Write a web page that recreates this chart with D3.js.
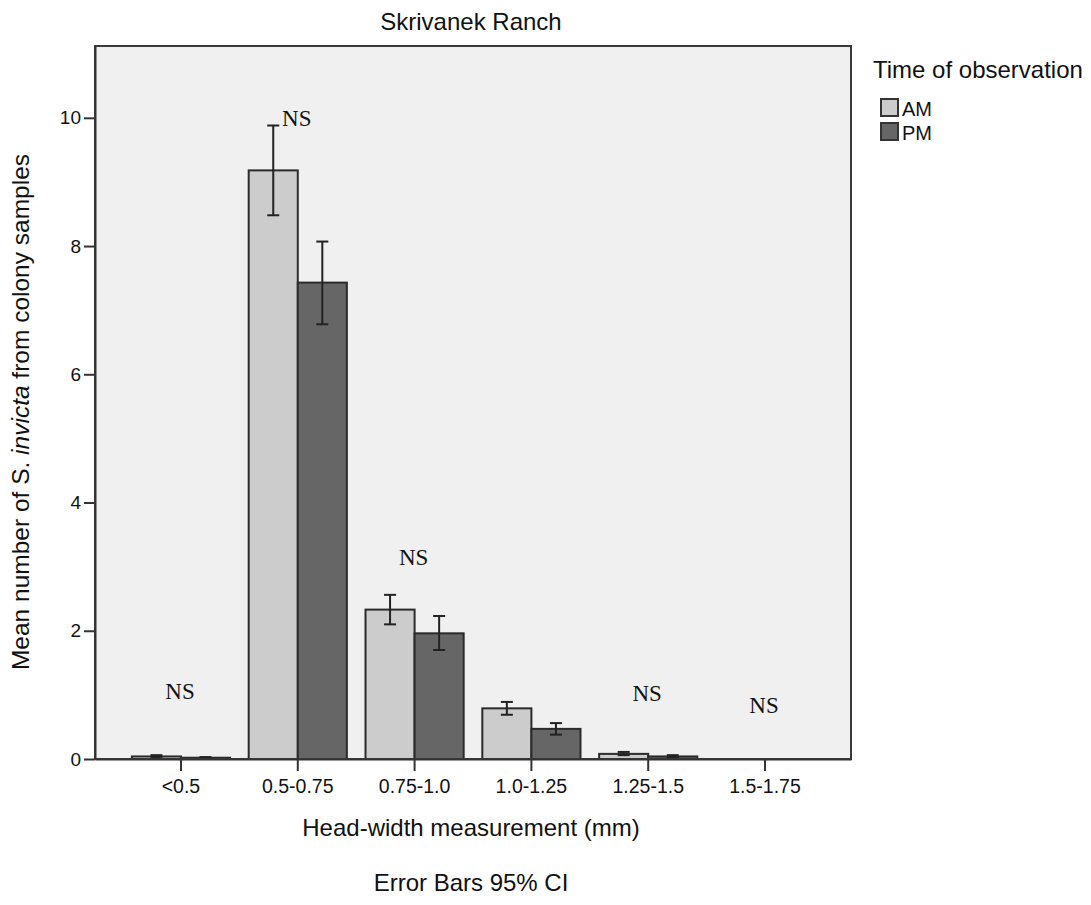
<!DOCTYPE html>
<html>
<head>
<meta charset="utf-8">
<script src="https://cdn.jsdelivr.net/npm/d3@7"></script>
<style>
  body { margin: 0; background: #fff; }
  svg text { font-family: Arial, "Liberation Sans", sans-serif; fill: #111; }
</style>
</head>
<body>
<svg id="chart"></svg>
<script>
// Categories and series
const categories = ['<0.5', '0.5-0.75', '0.75-1.0', '1.0-1.25', '1.25-1.5', '1.5-1.75'];
const series = ['AM', 'PM'];
const amMean = [0.04, 9.18, 2.33, 0.79, 0.08, 0];
const amLow = [0.03, 8.48, 2.10, 0.69, 0.06, 0];
const amHigh = [0.06, 9.88, 2.56, 0.89, 0.11, 0];
const pmMean = [0.02, 7.43, 1.96, 0.47, 0.04, 0];
const pmLow = [0.01, 6.78, 1.70, 0.38, 0.03, 0];
const pmHigh = [0.03, 8.07, 2.23, 0.56, 0.06, 0];
const yTicks = [0, 2, 4, 6, 8, 10];
// NS annotations: category and height in data units
const nsCats = ['<0.5', '0.5-0.75', '0.75-1.0', '1.25-1.5', '1.5-1.75'];
const nsY = [0.93, 9.88, 3.02, 0.90, 0.72];

const width = 1091;
const height = 905;
const margin = { left: 95, top: 46, right: 240, bottom: 146 };
const innerW = width - margin.left - margin.right;
const innerH = height - margin.top - margin.bottom;

const color = d3.scaleOrdinal().domain(series).range(['#cccccc', '#666666']);

const svg = d3.select('#chart')
  .attr('width', width)
  .attr('height', height);

const g = svg.append('g')
  .attr('transform', `translate(${margin.left},${margin.top})`);

// Scales
const x = d3.scaleBand()
  .domain(categories)
  .range([0, innerW])
  .paddingInner(0)
  .paddingOuter(0.236);

const xs = d3.scaleBand()
  .domain(series)
  .range([0, x.bandwidth()])
  .paddingInner(0)
  .paddingOuter(0.19);

const y = d3.scaleLinear()
  .domain([0, 11.12])
  .range([innerH, 0]);

// Plot background
g.append('rect')
  .attr('width', innerW)
  .attr('height', innerH)
  .attr('fill', '#f0f0f0');

// Build rows from the arrays
const rows = [];
categories.forEach((c, i) => {
  rows.push({ cat: c, s: 'AM', v: amMean[i], lo: amLow[i], hi: amHigh[i] });
  rows.push({ cat: c, s: 'PM', v: pmMean[i], lo: pmLow[i], hi: pmHigh[i] });
});
const shown = rows.filter(d => d.v > 0);

// Bars
g.selectAll('rect.bar')
  .data(shown)
  .enter()
  .append('rect')
  .attr('class', 'bar')
  .attr('x', d => x(d.cat) + xs(d.s))
  .attr('y', d => y(d.v))
  .attr('width', xs.bandwidth())
  .attr('height', d => y(0) - y(d.v))
  .attr('fill', d => color(d.s))
  .attr('stroke', '#2b2b2b')
  .attr('stroke-width', 2);

// Error bars
const eb = g.selectAll('g.err')
  .data(shown)
  .enter()
  .append('g')
  .attr('class', 'err')
  .attr('transform', d => `translate(${x(d.cat) + xs(d.s) + xs.bandwidth() / 2},0)`)
  .attr('stroke', '#222')
  .attr('stroke-width', 2);
eb.append('line')
  .attr('y1', d => y(d.lo)).attr('y2', d => y(d.hi));
eb.append('line')
  .attr('x1', -6).attr('x2', 6)
  .attr('y1', d => y(d.hi)).attr('y2', d => y(d.hi));
eb.append('line')
  .attr('x1', -6).attr('x2', 6)
  .attr('y1', d => y(d.lo)).attr('y2', d => y(d.lo));

// NS labels
g.selectAll('text.ns')
  .data(nsCats)
  .enter()
  .append('text')
  .attr('class', 'ns')
  .attr('x', d => x(d) + x.bandwidth() / 2 - 1)
  .attr('y', (d, i) => y(nsY[i]))
  .attr('text-anchor', 'middle')
  .style('font-family', '"Times New Roman", "Liberation Serif", serif')
  .style('font-size', '23px')
  .text('NS');

// Frame
g.append('rect')
  .attr('width', innerW)
  .attr('height', innerH)
  .attr('fill', 'none')
  .attr('stroke', '#3a3a3a')
  .attr('stroke-width', 2);

// Axes
const yAxis = g.append('g')
  .call(d3.axisLeft(y).tickValues(yTicks).tickSize(11).tickSizeOuter(0).tickPadding(3));
yAxis.select('.domain').attr('stroke', '#333').attr('stroke-width', 2);
yAxis.selectAll('.tick line').attr('stroke', '#333').attr('stroke-width', 2);
yAxis.selectAll('.tick text')
  .style('font-size', '19px')
  .style('font-family', 'Arial, "Liberation Sans", sans-serif')
  .attr('fill', '#111');

const xAxis = g.append('g')
  .attr('transform', `translate(0,${innerH})`)
  .call(d3.axisBottom(x).tickSize(12).tickSizeOuter(0).tickPadding(8));
xAxis.select('.domain').attr('stroke', '#333').attr('stroke-width', 2);
xAxis.selectAll('.tick line').attr('stroke', '#333').attr('stroke-width', 2);
xAxis.selectAll('.tick text')
  .style('font-size', '19.5px')
  .style('font-family', 'Arial, "Liberation Sans", sans-serif')
  .attr('fill', '#111');

// Titles
svg.append('text')
  .attr('x', margin.left + innerW / 2 - 2)
  .attr('y', 30)
  .attr('text-anchor', 'middle')
  .style('font-size', '24px')
  .text('Skrivanek Ranch');

svg.append('text')
  .attr('x', margin.left + innerW / 2 - 2)
  .attr('y', 836)
  .attr('text-anchor', 'middle')
  .style('font-size', '24px')
  .text('Head-width measurement (mm)');

svg.append('text')
  .attr('x', margin.left + innerW / 2 - 2)
  .attr('y', 891)
  .attr('text-anchor', 'middle')
  .style('font-size', '24px')
  .text('Error Bars 95% CI');

const yl = svg.append('text')
  .attr('transform', `translate(29,412) rotate(-90)`)
  .attr('text-anchor', 'middle')
  .style('font-size', '24.5px');
yl.append('tspan').text('Mean number of S. ');
yl.append('tspan').style('font-style', 'italic').text('invicta');
yl.append('tspan').text(' from colony samples');

// Legend
const legend = svg.append('g').attr('transform', 'translate(873,0)');
legend.append('text')
  .attr('x', 0)
  .attr('y', 78)
  .style('font-size', '24px')
  .text('Time of observation');
const li = legend.selectAll('g.item')
  .data(series)
  .enter()
  .append('g')
  .attr('class', 'item')
  .attr('transform', (d, i) => `translate(8,${99 + i * 24})`);
li.append('rect')
  .attr('width', 17)
  .attr('height', 17)
  .attr('fill', d => color(d))
  .attr('stroke', '#333')
  .attr('stroke-width', 2);
li.append('text')
  .attr('x', 21)
  .attr('y', 17)
  .style('font-size', '20px')
  .text(d => d);
</script>
</body>
</html>
